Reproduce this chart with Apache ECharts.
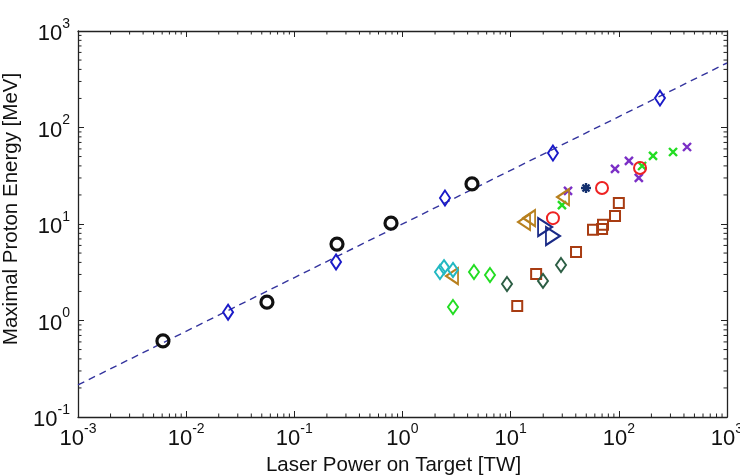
<!DOCTYPE html>
<html><head><meta charset="utf-8">
<script src="https://cdn.jsdelivr.net/npm/echarts@6/dist/echarts.min.js"></script>
<style>html,body{margin:0;padding:0;background:#fff}#c{width:740px;height:475px}</style>
</head><body><div id="c"></div>
<script>
// ---- axis ranges / ticks ----
const xMin = 0.001, xMax = 1000;
const yMin = 0.1, yMax = 1000;
const minorMultipliers = [2, 3, 4, 5, 6, 7, 8, 9];
const xDecades = [0.001, 0.01, 0.1, 1, 10, 100];
const yDecades = [0.1, 1, 10, 100];
const xTitle = 'Laser Power on Target [TW]';
const yTitle = 'Maximal Proton Energy [MeV]';

// ---- data (TW, MeV) ----
const fitLine = [[0.001, 0.215], [1000, 466]];
const blackCircles = [[0.0061, 0.614], [0.0558, 1.55], [0.248, 6.2], [0.783, 10.2], [4.39, 26.0]];
const blueDiamonds = [[0.0244, 1.22], [0.243, 4.04], [2.47, 18.6], [24.6, 54.4], [240, 202]];
const purpleCrosses = [[33.9, 22.0], [92.2, 37.2], [124, 45.0], [153, 30.0], [427, 62.8]];
const greenCrosses = [[29.8, 15.7], [164, 39.9], [207, 50.7], [317, 55.7]];
const redCircles = [[24.6, 11.5], [69.9, 23.6], [157, 38.0]];
const navyAsterisk = [[49.7, 23.6]];
const goldTriangles = [[13.3, 10.5], [14.8, 11.5], [30.5, 19.0], [2.87, 2.89]];
const navyTriangles = [[20.8, 9.3], [24.6, 7.5]];
const brownSquares = [[100, 16.5], [92.2, 12.1], [71.4, 9.8], [70, 8.9], [57.7, 8.7], [40.2, 5.13], [17.2, 3.03], [11.5, 1.41]];
const darkGreenDiamonds = [[29.2, 3.76], [19.9, 2.57], [9.25, 2.39]];
const greenDiamonds = [[4.58, 3.18], [6.44, 2.96], [2.93, 1.38]];
const cyanDiamonds = [[2.22, 3.18], [2.42, 3.58], [2.93, 3.34]];

const xMinorTicks = [];
xDecades.forEach(d => minorMultipliers.forEach(m => xMinorTicks.push([d * m, yMin])));
const yMinorTicks = [];
yDecades.forEach(d => minorMultipliers.forEach(m => yMinorTicks.push([xMin, d * m])));

const FONT = 'Liberation Sans, Arial, sans-serif';
const AX = '#222';
const labelRich = {
  b: { fontSize: 22, fontFamily: FONT, color: '#111', verticalAlign: 'bottom', lineHeight: 28 },
  s: { fontSize: 14, fontFamily: FONT, color: '#111', verticalAlign: 'top', lineHeight: 15 }
};
const expFmt = v => '{b|10}{s|' + Math.round(Math.log10(v)) + '}';

function scatter(name, data, symbol, size, color, opts) {
  return Object.assign({
    type: 'scatter', name, data, symbol, symbolSize: size, z: 5,
    itemStyle: { color: 'rgba(0,0,0,0)', borderColor: color, borderWidth: 2, opacity: 1 },
    emphasis: { disabled: true }
  }, opts || {});
}
const crossPath = 'path://M0,0L10,10M10,0L0,10';
const starPath = 'path://M5,0L5,10M0,5L10,5M1.5,1.5L8.5,8.5M8.5,1.5L1.5,8.5';
const solid = (c, w) => ({ itemStyle: { color: c, borderColor: c, borderWidth: w, opacity: 1 } });

const chart = echarts.init(document.getElementById('c'));
chart.setOption({
  animation: false,
  backgroundColor: '#fff',
  grid: { left: 78, right: 13, top: 31, bottom: 58, containLabel: false, outerBoundsMode: 'none' },
  xAxis: [{
    type: 'log', logBase: 10, min: xMin, max: xMax, splitNumber: 6,
    name: xTitle, nameLocation: 'middle', nameGap: 38,
    nameTextStyle: { fontSize: 20.5, fontFamily: FONT, color: '#111', padding: [0, 18, 0, 0] },
    axisLine: { lineStyle: { color: AX, width: 1.3 } },
    axisTick: { inside: true, length: 6, lineStyle: { color: AX } },
    axisLabel: { formatter: expFmt, rich: labelRich, margin: 5 },
    splitLine: { show: false }
  }, {
    type: 'log', logBase: 10, min: xMin, max: xMax, splitNumber: 6, position: 'top',
    axisLine: { lineStyle: { color: AX, width: 1.3 } },
    axisTick: { inside: true, length: 6, lineStyle: { color: AX } },
    axisLabel: { show: false }, splitLine: { show: false }
  }],
  yAxis: [{
    type: 'log', logBase: 10, min: yMin, max: yMax, splitNumber: 4,
    name: yTitle, nameLocation: 'middle', nameGap: 43, nameRotate: 90,
    nameTextStyle: { fontSize: 20.5, fontFamily: FONT, color: '#111', padding: [0, 0, 0, 30] },
    axisLine: { lineStyle: { color: AX, width: 1.3 } },
    axisTick: { inside: true, length: 6, lineStyle: { color: AX } },
    axisLabel: { formatter: expFmt, rich: labelRich, margin: 8 },
    splitLine: { show: false }
  }, {
    type: 'log', logBase: 10, min: yMin, max: yMax, splitNumber: 4, position: 'right',
    axisLine: { lineStyle: { color: AX, width: 1.3 } },
    axisTick: { inside: true, length: 6, lineStyle: { color: AX } },
    axisLabel: { show: false }, splitLine: { show: false }
  }],
  series: [
    {
      type: 'custom', name: 'xminor', data: xMinorTicks, z: 3, silent: true, clip: false,
      renderItem(params, api) {
        const v = api.value(0);
        const pb = api.coord([v, yMin]);
        const pt = api.coord([v, yMax]);
        const st = { stroke: AX, lineWidth: 1 };
        return { type: 'group', children: [
          { type: 'line', shape: { x1: pb[0], y1: pb[1], x2: pb[0], y2: pb[1] - 3.5 }, style: st },
          { type: 'line', shape: { x1: pt[0], y1: pt[1], x2: pt[0], y2: pt[1] + 3.5 }, style: st }
        ] };
      }
    },
    {
      type: 'custom', name: 'yminor', data: yMinorTicks, z: 3, silent: true, clip: false,
      renderItem(params, api) {
        const v = api.value(1);
        const pl = api.coord([xMin, v]);
        const pr = api.coord([xMax, v]);
        const st = { stroke: AX, lineWidth: 1 };
        return { type: 'group', children: [
          { type: 'line', shape: { x1: pl[0], y1: pl[1], x2: pl[0] + 3.5, y2: pl[1] }, style: st },
          { type: 'line', shape: { x1: pr[0], y1: pr[1], x2: pr[0] - 3.5, y2: pr[1] }, style: st }
        ] };
      }
    },
    {
      type: 'line', name: 'fit', data: fitLine, symbol: 'none', z: 2, silent: true,
      lineStyle: { color: '#34349e', width: 1.4, type: [7, 5] }
    },
    scatter('black', blackCircles, 'circle', 12, '#111', { itemStyle: { color: 'rgba(0,0,0,0)', borderColor: '#111', borderWidth: 3.2, opacity: 1 } }),
    scatter('blue', blueDiamonds, 'diamond', [10, 15], '#1a1ac8'),
    scatter('purple', purpleCrosses, crossPath, 8, '#7b2fc6', solid('#7b2fc6', 2.4)),
    scatter('greenx', greenCrosses, crossPath, 8, '#22dd22', solid('#22dd22', 2.4)),
    scatter('red', redCircles, 'circle', 12, '#ee2222'),
    scatter('star', navyAsterisk, starPath, 10, '#14306e', solid('#14306e', 2.4)),
    scatter('gold', goldTriangles, 'triangle', [16, 12], '#b8801e', { symbolRotate: 90 }),
    scatter('navytri', navyTriangles, 'triangle', [18, 14], '#1a2a86', { symbolRotate: -90 }),
    scatter('brown', brownSquares, 'rect', 10, '#a83c12'),
    scatter('dkgreen', darkGreenDiamonds, 'diamond', [10, 14], '#2c5e44'),
    scatter('green', greenDiamonds, 'diamond', [10, 14], '#22dd22'),
    scatter('cyan', cyanDiamonds, 'diamond', [10, 14], '#22b8c2')
  ]
});
</script>
</body></html>
